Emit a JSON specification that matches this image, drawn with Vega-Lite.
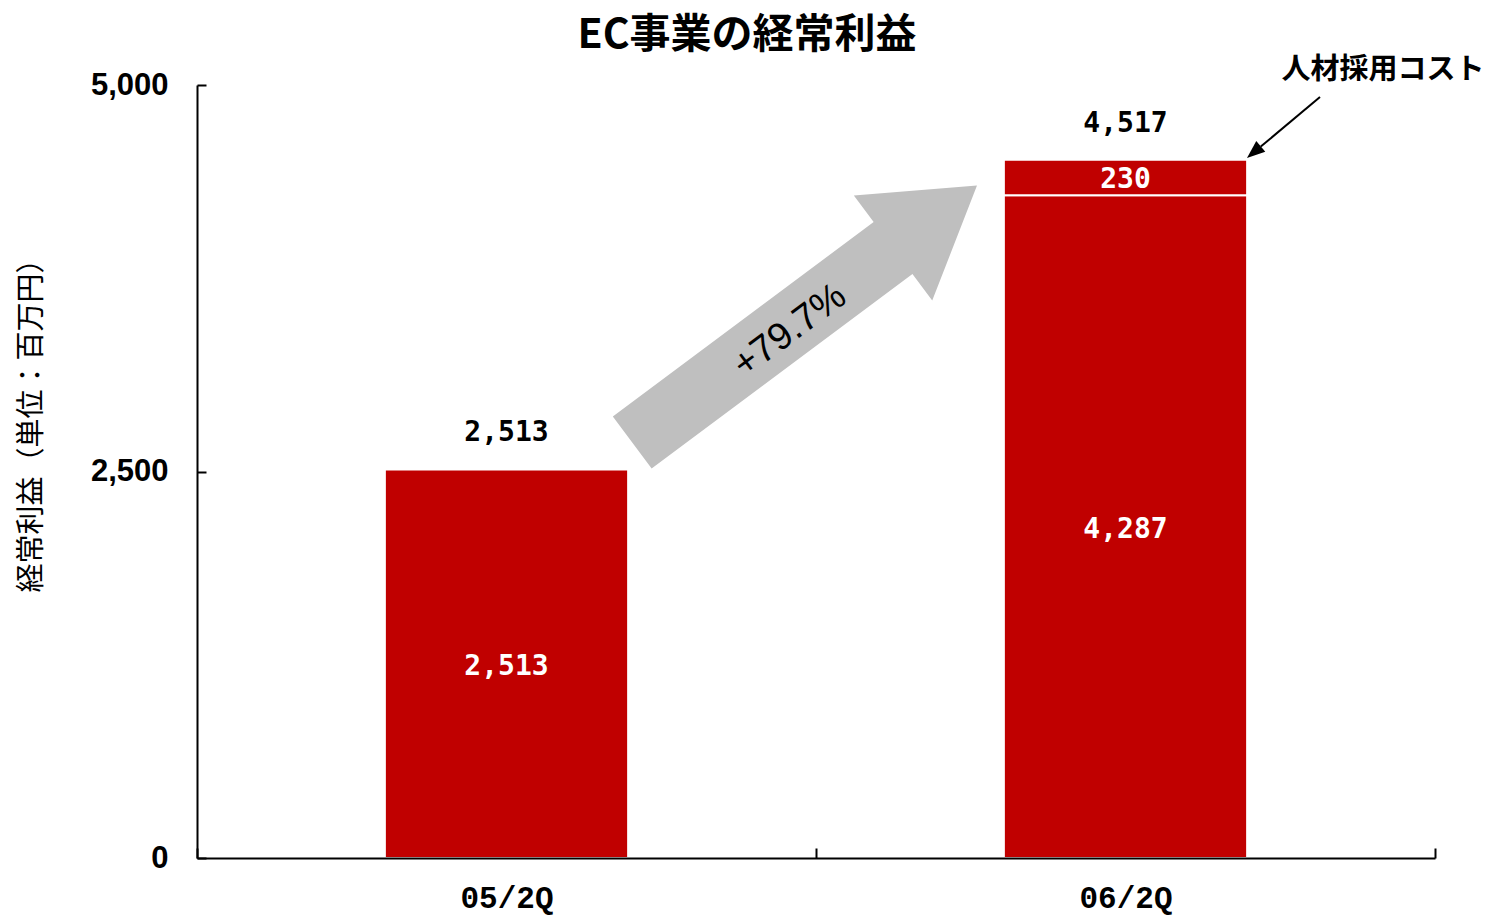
{
  "$schema": "https://vega.github.io/schema/vega-lite/v6.json",
  "width": 1238,
  "height": 773,
  "autosize": {"type": "none"},
  "padding": {"left": 197, "top": 85, "right": 53, "bottom": 58},
  "background": "white",
  "config": {"view": {"stroke": null}},
  "title": {
    "text": "EC事業の経常利益",
    "font": "Noto Sans CJK JP",
    "fontSize": 41,
    "fontWeight": "bold",
    "color": "black",
    "anchor": "middle",
    "frame": "group",
    "dx": -69,
    "offset": -1
  },
  "data": {
    "values": [
      {"q": "05/2Q", "seg": "経常利益", "v": 2513, "o": 1},
      {"q": "06/2Q", "seg": "経常利益", "v": 4287, "o": 1},
      {"q": "06/2Q", "seg": "人材採用コスト", "v": 230, "o": 2}
    ]
  },
  "resolve": {"scale": {"x": "independent"}},
  "layer": [
    {
      "transform": [
        {"stack": "v", "groupby": ["q"], "sort": [{"field": "o"}], "as": ["v0", "v1"]}
      ],
      "mark": {"type": "bar", "color": "#C00000", "stroke": "white", "strokeWidth": 2, "width": {"band": 0.393}},
      "encoding": {
        "x": {
          "field": "q", "type": "nominal", "sort": null,
          "scale": {"paddingInner": 0, "paddingOuter": 0},
          "axis": {
            "title": null, "tickBand": "extent", "labelAngle": 0,
            "labelFont": "Liberation Mono", "labelFontWeight": "bold", "labelFontSize": 31,
            "labelColor": "black", "labelBaseline": "middle", "labelPadding": 50,
            "domainColor": "black", "domainWidth": 2,
            "tickColor": "black", "tickWidth": 2, "tickSize": -10,
            "zindex": 1
          }
        },
        "y": {
          "field": "v0", "type": "quantitative",
          "scale": {"domain": [0, 5000], "nice": false},
          "axis": {
            "values": [0, 2500, 5000],
            "labelExpr": "format(datum.value, ',')",
            "grid": false,
            "labelFont": "Liberation Sans", "labelFontWeight": "bold", "labelFontSize": 31,
            "labelColor": "black", "labelPadding": 38,
            "domainColor": "black", "domainWidth": 2,
            "tickColor": "black", "tickWidth": 2, "tickSize": -9,
            "title": "経常利益（単位：百万円）",
            "titleFont": "Noto Sans CJK JP", "titleFontSize": 29, "titleFontWeight": "normal",
            "titleColor": "black", "titleAngle": -90, "titleX": -166, "titleY": 333,
            "titleAlign": "center", "titleBaseline": "middle",
            "zindex": 1
          }
        },
        "y2": {"field": "v1"}
      }
    },
    {
      "transform": [
        {"stack": "v", "groupby": ["q"], "sort": [{"field": "o"}], "as": ["v0", "v1"]},
        {"calculate": "(datum.v0 + datum.v1) / 2", "as": "mid"}
      ],
      "mark": {"type": "text", "color": "white", "font": "DejaVu Sans Mono", "fontWeight": "bold", "fontSize": 28, "baseline": "middle", "align": "center", "dy": 3},
      "encoding": {
        "x": {"field": "q", "type": "nominal", "sort": null, "scale": {"paddingInner": 0, "paddingOuter": 0}, "axis": null},
        "y": {"field": "mid", "type": "quantitative", "scale": {"domain": [0, 5000], "nice": false}},
        "text": {"field": "v", "type": "quantitative", "format": ","}
      }
    },
    {
      "transform": [
        {"aggregate": [{"op": "sum", "field": "v", "as": "total"}], "groupby": ["q"]}
      ],
      "mark": {"type": "text", "color": "black", "font": "DejaVu Sans Mono", "fontWeight": "bold", "fontSize": 28, "baseline": "middle", "align": "center", "dy": -36},
      "encoding": {
        "x": {"field": "q", "type": "nominal", "sort": null, "scale": {"paddingInner": 0, "paddingOuter": 0}, "axis": null},
        "y": {"field": "total", "type": "quantitative", "scale": {"domain": [0, 5000], "nice": false}},
        "text": {"field": "total", "type": "quantitative", "format": ","}
      }
    },
    {
      "data": {"values": [{"label": "arrow"}]},
      "mark": {
        "type": "point",
        "shape": "M-1,-0.151L0.513,-0.151L0.513,-0.305L1,0L0.513,0.305L0.513,0.151L-1,0.151Z",
        "size": 184900,
        "angle": -36.7,
        "filled": true,
        "fill": "#BFBFBF",
        "opacity": 1,
        "strokeWidth": 0
      },
      "encoding": {
        "x": {"datum": 0.9816, "type": "quantitative", "scale": {"domain": [0, 2], "nice": false, "zero": false}, "axis": null},
        "y": {"datum": 3519, "type": "quantitative", "scale": {"domain": [0, 5000], "nice": false}}
      }
    },
    {
      "data": {"values": [{"label": "+79.7%"}]},
      "mark": {"type": "text", "font": "Liberation Sans", "fontSize": 38, "color": "black", "angle": -36.7, "align": "center", "baseline": "middle"},
      "encoding": {
        "x": {"datum": 0.958, "type": "quantitative", "scale": {"domain": [0, 2], "nice": false, "zero": false}, "axis": null},
        "y": {"datum": 3409, "type": "quantitative", "scale": {"domain": [0, 5000], "nice": false}},
        "text": {"field": "label"}
      }
    },
    {
      "data": {"values": [{"label": "人材採用コスト"}]},
      "mark": {"type": "text", "font": "Noto Sans CJK JP", "fontSize": 29, "fontWeight": "bold", "color": "black", "align": "center", "baseline": "middle"},
      "encoding": {
        "x": {"datum": 1.916, "type": "quantitative", "scale": {"domain": [0, 2], "nice": false, "zero": false}, "axis": null},
        "y": {"datum": 5097, "type": "quantitative", "scale": {"domain": [0, 5000], "nice": false}},
        "text": {"field": "label"}
      }
    },
    {
      "data": {"values": [{"label": "leader"}]},
      "mark": {"type": "rule", "color": "black", "strokeWidth": 2},
      "encoding": {
        "x": {"datum": 1.8142, "type": "quantitative", "scale": {"domain": [0, 2], "nice": false, "zero": false}, "axis": null},
        "x2": {"datum": 1.7186},
        "y": {"datum": 4922, "type": "quantitative", "scale": {"domain": [0, 5000], "nice": false}},
        "y2": {"datum": 4602}
      }
    },
    {
      "data": {"values": [{"label": "head"}]},
      "mark": {
        "type": "point",
        "shape": "M0,-1L0.78,1L-0.78,1Z",
        "size": 324,
        "angle": 230,
        "filled": true,
        "fill": "black",
        "opacity": 1,
        "strokeWidth": 0
      },
      "encoding": {
        "x": {"datum": 1.7074, "type": "quantitative", "scale": {"domain": [0, 2], "nice": false, "zero": false}, "axis": null},
        "y": {"datum": 4565, "type": "quantitative", "scale": {"domain": [0, 5000], "nice": false}}
      }
    }
  ]
}
